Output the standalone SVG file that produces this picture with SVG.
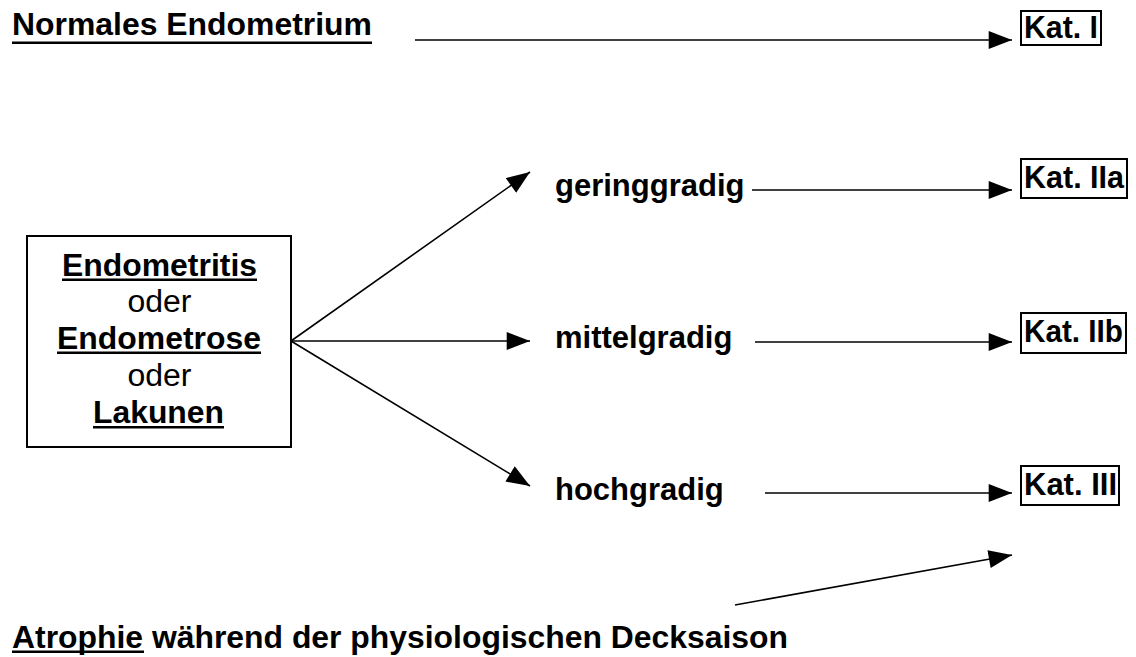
<svg xmlns="http://www.w3.org/2000/svg" width="1136" height="657" viewBox="0 0 1136 657">
<style>
text{font-family:"Liberation Sans",Arial,sans-serif;font-size:31px;fill:#000}
.b{font-weight:bold}
.ul{fill:#000}
.box{fill:#fff;stroke:#000;stroke-width:2}
.c{stroke:#000;stroke-width:1.6;fill:none;marker-end:url(#ah)}
</style>
<defs>
<marker id="ah" markerUnits="userSpaceOnUse" markerWidth="24" markerHeight="18" refX="22" refY="8.5" orient="auto" viewBox="0 0 22 17">
<path d="M0,0 L22,8.5 L0,17 z" fill="#000"/>
</marker>
</defs>
<rect width="1136" height="657" fill="#fff"/>
<g id="connectors">
<line class="c" x1="415" y1="40" x2="1012" y2="40"/>
<line class="c" x1="291" y1="341" x2="530" y2="172"/>
<line class="c" x1="291" y1="341" x2="530" y2="341"/>
<line class="c" x1="291" y1="341" x2="530" y2="486"/>
<line class="c" x1="752" y1="190" x2="1012" y2="190"/>
<line class="c" x1="755" y1="342" x2="1012" y2="342"/>
<line class="c" x1="765" y1="493" x2="1012" y2="493"/>
<line class="c" x1="735" y1="605" x2="1012" y2="555"/>
</g>
<g id="normal">
<text class="b" x="12" y="35" textLength="360" lengthAdjust="spacingAndGlyphs">Normales Endometrium</text>
<rect class="ul" x="12" y="41.5" width="360" height="2.5"/>
</g>
<g id="kat1">
<rect class="box" x="1021" y="11" width="80" height="34"/>
<text class="b" x="1024" y="38" textLength="74" lengthAdjust="spacingAndGlyphs">Kat. I</text>
</g>
<g id="box">
<rect class="box" x="27" y="236" width="264" height="211"/>
<text class="b" x="159.5" y="276" text-anchor="middle" textLength="195" lengthAdjust="spacingAndGlyphs">Endometritis</text>
<rect class="ul" x="62" y="278.5" width="195" height="2.5"/>
<text x="159.5" y="312" text-anchor="middle" textLength="64" lengthAdjust="spacingAndGlyphs">oder</text>
<text class="b" x="159" y="349" text-anchor="middle" textLength="204" lengthAdjust="spacingAndGlyphs">Endometrose</text>
<rect class="ul" x="57" y="351.5" width="204" height="2.5"/>
<text x="159.5" y="386" text-anchor="middle" textLength="64" lengthAdjust="spacingAndGlyphs">oder</text>
<text class="b" x="158.5" y="423" text-anchor="middle" textLength="131" lengthAdjust="spacingAndGlyphs">Lakunen</text>
<rect class="ul" x="93" y="426" width="131" height="2.5"/>
</g>
<g id="gering">
<text class="b" x="555" y="196">geringgradig</text>
</g>
<g id="mittel">
<text class="b" x="555" y="348">mittelgradig</text>
</g>
<g id="hoch">
<text class="b" x="555" y="500">hochgradig</text>
</g>
<g id="kat2a">
<rect class="box" x="1021" y="159" width="106" height="39"/>
<text class="b" x="1024" y="188" textLength="100" lengthAdjust="spacingAndGlyphs">Kat. IIa</text>
</g>
<g id="kat2b">
<rect class="box" x="1021" y="313" width="105" height="40"/>
<text class="b" x="1024" y="342" textLength="99" lengthAdjust="spacingAndGlyphs">Kat. IIb</text>
</g>
<g id="kat3">
<rect class="box" x="1021" y="466" width="98" height="39"/>
<text class="b" x="1024" y="495" textLength="93" lengthAdjust="spacingAndGlyphs">Kat. III</text>
</g>
<g id="atrophie">
<text class="b" x="12" y="648" textLength="776" lengthAdjust="spacingAndGlyphs">Atrophie während der physiologischen Decksaison</text>
<rect class="ul" x="12" y="650.5" width="132" height="2.5"/>
</g>
</svg>
